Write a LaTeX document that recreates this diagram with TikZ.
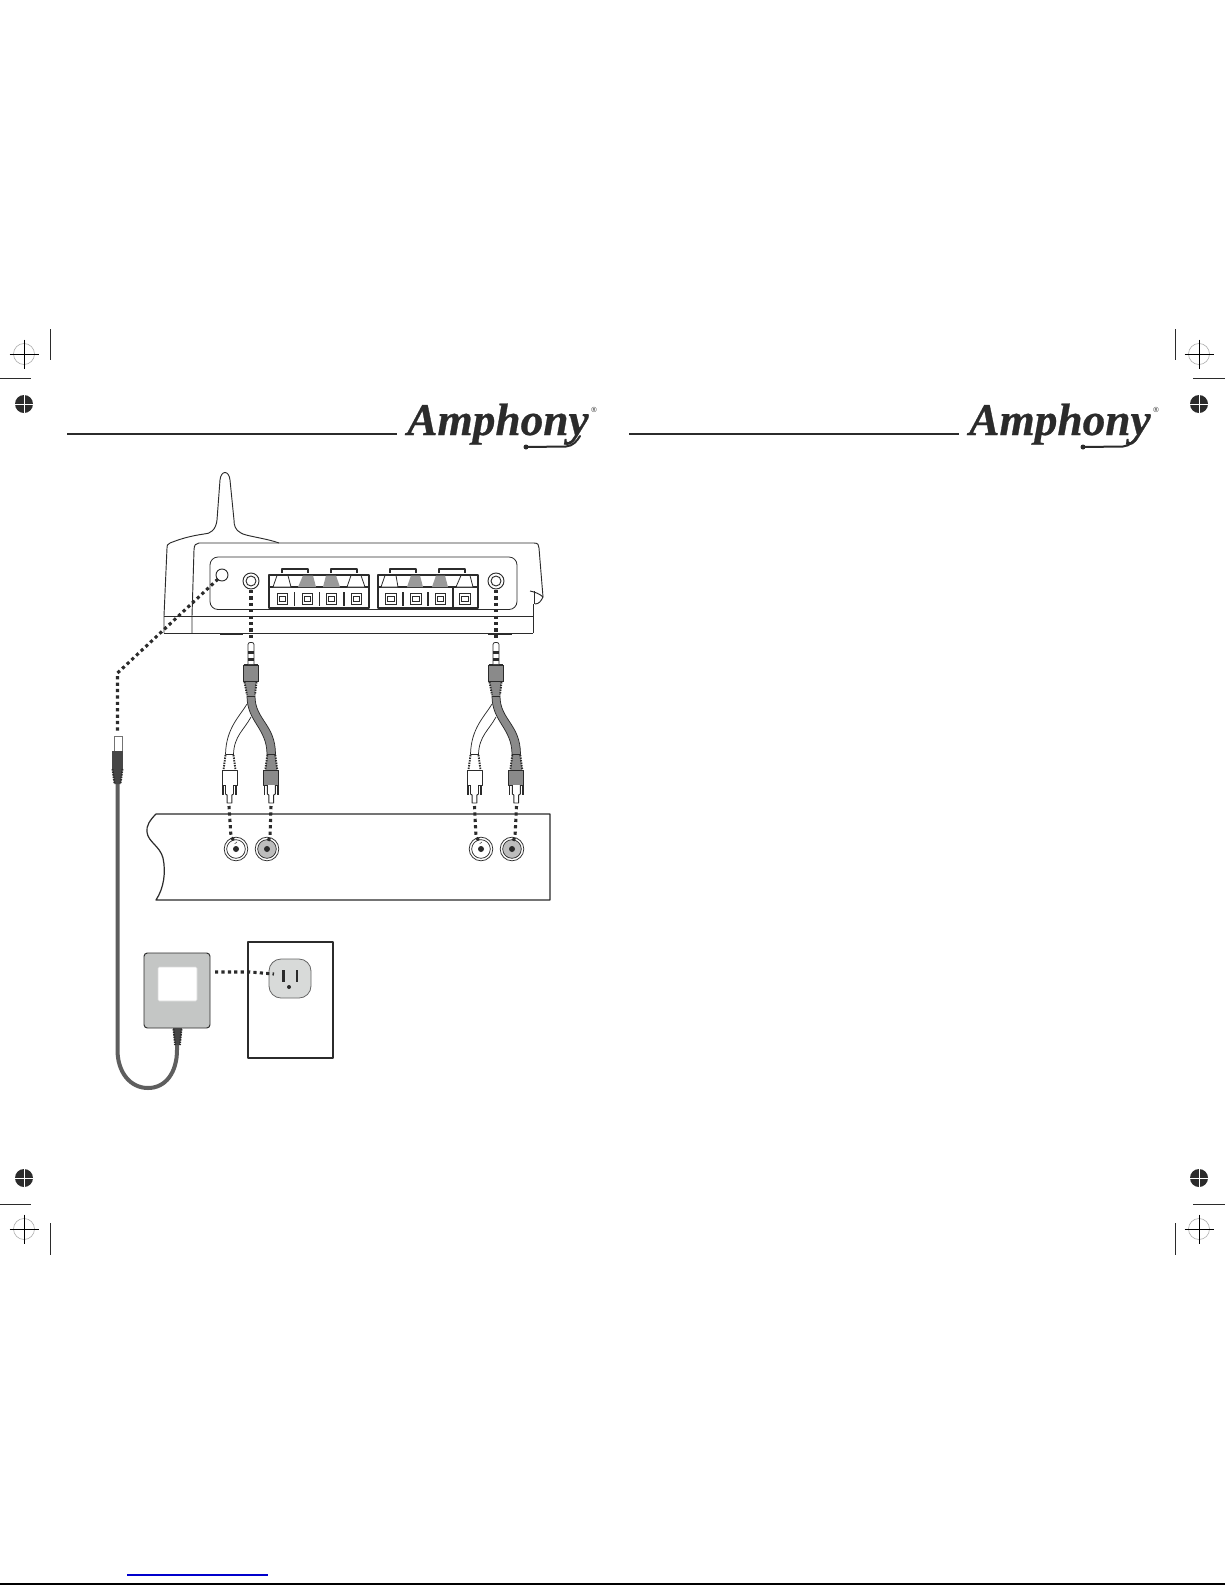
\documentclass[tikz,border=0pt]{standalone}
\usepackage{fontspec}
\usepackage{graphicx}
\setmainfont{Liberation Serif}
\newfontfamily\regfont{Liberation Sans}
\newfontfamily\logofont{Liberation Serif}[BoldItalicFeatures={FakeBold=0.6}]
\definecolor{ink}{HTML}{2B2B2B}
\definecolor{cablegrey}{HTML}{8A8A8A}
\definecolor{termgrey}{HTML}{9A9A9A}
\definecolor{adaptgrey}{HTML}{C4C6C5}
\definecolor{outletgrey}{HTML}{D8DAD9}
\definecolor{jackgrey}{HTML}{BDBDBD}
\definecolor{powergrey}{HTML}{5E5E5E}
\definecolor{linkblue}{HTML}{0000CC}
\tikzset{
  outline/.style={draw=ink,line width=0.7pt,line join=round},
  hair/.style={draw=ink,line width=0.55pt},
  fineline/.style={draw=ink,line width=0.45pt},
  dotline/.style={draw=ink,line width=2.3pt,dash pattern=on 2.4pt off 2.4pt},
  hatch/.style={draw=ink,line width=1.4pt,dash pattern=on 1.1pt off 0.8pt},
  logotext/.style={inner sep=0pt,anchor=base west,text=ink,font=\logofont\fontsize{34}{35}\selectfont\bfseries\itshape},
  regtext/.style={inner sep=0pt,text=ink,font=\regfont\fontsize{5.5}{6}\selectfont},
  term/.style={draw=ink,line width=0.6pt,line join=round,fill=white},
  termg/.style={draw=none,fill=termgrey},
  swash/.style={draw=ink,line width=1.5pt,line cap=round},
}
\newcommand{\crossmark}[2]{%
  \draw[draw=black!35,line width=0.4pt] (#1,#2) circle [radius=10.5];
  \draw[fineline,draw=black] (#1-14.5,#2) -- (#1+14.5,#2) (#1,#2-14.5) -- (#1,#2+14.5);}
\newcommand{\blackmark}[2]{%
  \fill[ink] (#1,#2) circle [radius=9];
  \draw[white,line width=0.5pt] (#1-9,#2) -- (#1+9,#2) (#1,#2-9) -- (#1,#2+9);}
\newcommand{\trap}[5]{\path[#5] (#1,587) -- (#2,575.5) -- (#3,575.5) -- (#4,587) -- cycle;}
\newcommand{\win}[2]{%
  \draw[draw=ink,line width=0.6pt] (#1,593.5) rectangle (#2,604.5);
  \draw[draw=ink,line width=0.4pt] (#1+1.8,596.5) rectangle (#2-1.8,601.5);}
\newcommand{\rcaplug}[2]{%
  \path[fill=#2] (#1-4,754.5) -- (#1+4,754.5) -- (#1+6,770) -- (#1-6,770) -- cycle;
  \draw[hair] (#1-4,754.5) -- (#1+4,754.5);
  \draw[hatch] (#1-4,755) -- (#1-6,770);
  \draw[hatch] (#1+4,755) -- (#1+6,770);
  \draw[outline,fill=#2] (#1-7.5,770) rectangle (#1+7.5,785);
  \draw[outline,fill=white] (#1-4,785) -- (#1-4,794) -- (#1-2.4,795) -- (#1-2.4,803) -- (#1+2.4,803) -- (#1+2.4,795) -- (#1+4,794) -- (#1+4,785);
  \draw[draw=ink,line width=1.1pt] (#1-6.6,785) -- (#1-6.6,795) (#1+6.6,785) -- (#1+6.6,795);}
\newcommand{\ycable}{%
  \path[fill=white,draw=ink,line width=0.55pt] (247,704) .. controls (240,716) and (226,728) .. (225.5,754.5) -- (233.5,754.5) .. controls (234,736) and (244,730) .. (251,717);
  \path[fill=cablegrey,draw=ink,line width=0.55pt] (247,696) .. controls (247,722) and (267,728) .. (267,754.5) -- (275.5,754.5) .. controls (275.5,724) and (255,720) .. (255,696) -- cycle;
  \rcaplug{229.5}{white}
  \rcaplug{271.3}{cablegrey}
  \path[fill=cablegrey] (244.5,681) -- (256.5,681) -- (255,696) -- (247,696) -- cycle;
  \draw[hair] (247,696) -- (255,696);
  \draw[hatch] (244.5,682) -- (247,695);
  \draw[hatch] (256.5,682) -- (255,695);
  \path[draw=ink,line width=0.3pt,fill=cablegrey] (243,665) rectangle (258,681);
  \draw[draw=ink,line width=1.1pt] (243.5,664.5) -- (257.5,664.5);
  \draw[hair,fill=white,rounded corners=1.5pt] (248,664) -- (248,642.5) -- (254,642.5) -- (254,664);
  \fill[ink] (248,651) rectangle (254,654);
  \fill[ink] (248,657.5) rectangle (254,660.5);}
\newcommand{\rcajack}[3]{%
  \draw[hair,fill=white] (#1,849) circle [radius=11.8];
  \draw[hair,fill=#2] (#1,849) circle [radius=9.3];
  \fill[ink] (#1,849) circle [radius=3];
  \coordinate (#3) at (#1,843);}
\begin{document}
\begin{tikzpicture}[x=0.75pt,y=-0.75pt]
\useasboundingbox (0,0) rectangle (1225,1585);
\fill[white] (0,0) rectangle (1225,1585);

% ---- print marks
\crossmark{24}{354}
\crossmark{1199}{354}
\crossmark{24}{1229}
\crossmark{1199}{1229}
\blackmark{24}{404}
\blackmark{1199}{404}
\blackmark{24}{1178}
\blackmark{1199}{1178}
\draw[hair] (50,329) -- (50,360);
\draw[hair] (1175,329) -- (1175,360);
\draw[hair] (50,1223) -- (50,1255);
\draw[hair] (1175,1223) -- (1175,1255);
\draw[hair] (0,378) -- (31,378);
\draw[hair] (1193,378) -- (1225,378);
\draw[hair] (0,1204) -- (31,1204);
\draw[hair] (1193,1204) -- (1225,1204);

% ---- headers
\draw[draw=ink,line width=1.2pt] (67,434) -- (397,434);
\draw[draw=ink,line width=1.2pt] (629,434) -- (959,434);
\node[logotext] (logoA) at (407,435) {Amphony};
\node[logotext] (logoB) at (969,435) {Amphony};
\node[regtext] (regA) at (594,410) {®};
\node[regtext] (regB) at (1156,410) {®};
\draw[swash] (526,447) -- (566,446.5) .. controls (573,446) and (577,441) .. (580,436);
\fill[ink] (526,447) circle [radius=2.5];
\draw[swash] (1083,447) -- (1123,446.5) .. controls (1130,446) and (1134,441) .. (1137,436);
\fill[ink] (1083,447) circle [radius=2.5];

% ---- receiver back shell and antenna
\draw[outline] (279,543) .. controls (265,538) and (245,536) .. (241,533)
  .. controls (235,530) and (234,525) .. (234,520)
  -- (230,480) .. controls (229,470) and (221,470) .. (220,480)
  -- (217,520) .. controls (216,530) and (210,534) .. (204,534)
  .. controls (190,536) and (180,539) .. (170,543)
  .. controls (167,544) and (167,546) .. (167,548) -- (164,616) -- (164,633);
% ---- receiver front
\draw[outline] (192,633) -- (192,616) -- (194,550) .. controls (194,545) and (196,543) .. (199,543)
  -- (534,543) .. controls (538,543) and (539,545) .. (539,548) -- (543,597);
\draw[outline] (530,591) .. controls (535,592) and (540,594) .. (543,597) .. controls (541,601) and (539,604) .. (535,604);
\draw[outline] (534,591) -- (534,604);
\draw[outline] (533,604) -- (533,633);
\draw[outline] (164,616) -- (533,616);
\draw[outline] (164,633) -- (533,633);
\draw[draw=ink,line width=1.2pt] (220,634) -- (243,634);
\draw[draw=ink,line width=1.2pt] (488,634) -- (512,634);
\draw[draw=ink,line width=0.6pt,rounded corners=6pt] (210,557) rectangle (517,609.5);

% ---- receiver sockets
\draw[outline,fill=white] (222,575) circle [radius=6];
\coordinate (powerhole) at (218,579);
\draw[outline,fill=white] (251,581) circle [radius=8];
\draw[outline] (251,581) circle [radius=5];
\coordinate (jackL) at (251,590);
\draw[outline,fill=white] (496,581) circle [radius=8];
\draw[outline] (496,581) circle [radius=5];
\coordinate (jackR) at (496,590);

% ---- speaker terminals, block 1
\draw[outline,line width=0.9pt] (269,575) rectangle (369,608);
\draw[outline,line width=0.9pt] (269,587) -- (369,587);
\draw[draw=ink,line width=1.2pt] (269,608) -- (369,608);
\trap{273}{277}{288}{291}{term}
\trap{298}{303}{313}{316}{termg}
\trap{323}{326}{336}{340}{termg}
\trap{347}{351}{361}{365}{term}
\win{277}{287}\win{302}{312}\win{326}{336}\win{351}{361}
\draw[outline,line width=0.9pt] (294.5,592) -- (294.5,606) (319.5,592) -- (319.5,606) (344,592) -- (344,606);
\draw[outline,line width=1pt] (282,573) -- (282,569) -- (308,569) -- (308,573);
\draw[outline,line width=1pt] (331,573) -- (331,569) -- (357,569) -- (357,573);
% block 2
\draw[outline,line width=0.9pt] (378,575) rectangle (478,608);
\draw[outline,line width=0.9pt] (378,587) -- (478,587);
\draw[draw=ink,line width=1.2pt] (378,608) -- (478,608);
\trap{381}{385}{396}{398}{term}
\trap{407}{411}{420}{423}{termg}
\trap{432}{436}{445}{448}{termg}
\trap{456}{461}{470}{473}{term}
\win{385}{396}\win{410}{421}\win{435}{445}\win{459}{470}
\draw[outline,line width=0.9pt] (403,592) -- (403,606) (428,592) -- (428,606);
\draw[draw=ink,line width=1.1pt] (453,588) -- (453,607);
\draw[outline,line width=1pt] (390,573) -- (390,569) -- (416,569) -- (416,573);
\draw[outline,line width=1pt] (439,573) -- (439,569) -- (465,569) -- (465,573);

% ---- tv / source panel
\draw[outline,line width=0.9pt] (156,814) .. controls (150,820) and (146,826) .. (147,832)
  .. controls (148,842) and (160,846) .. (163,858)
  .. controls (166,872) and (164,888) .. (156,900) -- (550,900) -- (550,814) -- cycle;
\rcajack{236}{white}{jA}
\rcajack{267}{jackgrey}{jB}
\rcajack{481}{white}{jC}
\rcajack{512}{jackgrey}{jD}

% ---- Y cables
\ycable
\begin{scope}[shift={(245,0)}]
\ycable
\end{scope}

\coordinate (plugLtop) at (251,640);
\coordinate (plugRtop) at (496,640);
\coordinate (rcaA) at (229,806);
\coordinate (rcaAm) at (231,837);
\coordinate (rcaB) at (271,806);
\coordinate (rcaBm) at (270,837);
\coordinate (rcaC) at (474.5,806);
\coordinate (rcaCm) at (476,837);
\coordinate (rcaD) at (516.5,806);
\coordinate (rcaDm) at (515,837);
\draw[dotline] (jackL) -- (plugLtop);
\draw[dotline] (jackR) -- (plugRtop);
\draw[dotline] (rcaA) -- (rcaAm) -- (jA);
\draw[dotline] (rcaB) -- (rcaBm) -- (jB);
\draw[dotline] (rcaC) -- (rcaCm) -- (jC);
\draw[dotline] (rcaD) -- (rcaDm) -- (jD);

% ---- power plug and cable
\coordinate (bend) at (117.5,673);
\coordinate (plugtop) at (117.5,731);
\draw[dotline] (powerhole) -- (bend) -- (plugtop);
\draw[draw=powergrey,line width=3pt] (117.5,784) -- (117.5,1050)
  .. controls (117.5,1072) and (130,1088) .. (148,1088)
  .. controls (166,1088) and (177,1072) .. (177,1050) -- (177,1045);
\draw[hair,draw=black!55,fill=white] (114,736) rectangle (122,751);
\path[fill=powergrey!75!black] (112,751) rectangle (123,768);
\path[fill=powergrey!75!black] (112,768) -- (123,768) -- (120.5,784) -- (114.5,784) -- cycle;
\draw[hatch] (112.5,769) -- (114.5,784);
\draw[hatch] (122.5,769) -- (120.5,784);

% ---- adapter
\path[fill=powergrey!75!black] (173,1028) -- (182,1028) -- (180,1045) -- (175,1045) -- cycle;
\draw[hatch] (173.5,1029) -- (175,1045);
\draw[hatch] (181.5,1029) -- (180,1045);
\draw[outline,fill=adaptgrey,rounded corners=2.5pt] (144,953) rectangle (210,1028);
\draw[draw=white!85!black,line width=0.4pt,fill=white,rounded corners=1pt] (158,967) rectangle (197,1001);

% ---- wall outlet
\draw[outline,line width=0.9pt] (248,942) rectangle (333,1058);
\draw[draw=black!60,line width=0.6pt,fill=outletgrey,rounded corners=9pt] (269,959) rectangle (311,998);
\fill[ink] (281.5,970) rectangle (284.5,982);
\fill[ink] (295.5,970) rectangle (298,982);
\fill[ink] (289,987) circle [radius=2];
\coordinate (adapterout) at (215,972);
\coordinate (wallmid) at (250,972);
\coordinate (outletin) at (274,974);
\draw[dotline] (adapterout) -- (wallmid) -- (outletin);

% ---- page edge rules
\draw[draw=linkblue,line width=0.8pt] (127,1575) -- (268,1575);
\draw[draw=black,line width=0.9pt] (0,1584) -- (1225,1584);
\end{tikzpicture}
\end{document}
